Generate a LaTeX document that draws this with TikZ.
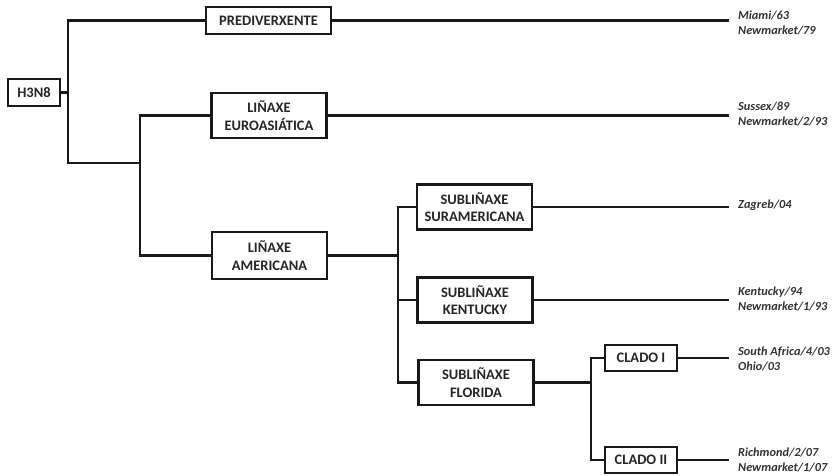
\documentclass[tikz,border=0pt]{standalone}
\usepackage{fontspec}
\setmainfont{Carlito}
\begin{document}
\begin{tikzpicture}[x=1pt,y=-1pt,
  box/.style={draw=black!90,line width=2.1pt,fill=white,align=center,inner sep=0pt,
    font=\fontsize{14.5}{17.5}\selectfont\bfseries\color{black!85}},
  bigbox/.style={box,minimum width=115pt,minimum height=45pt},
  smallbox/.style={box,minimum height=27pt},
  conn/.style={line width=2.1pt,black!90},
  lbl/.style={anchor=west,align=left,inner sep=0pt,
    font=\fontsize{12.3}{15.5}\selectfont\bfseries\itshape\color{black!80}}]
\useasboundingbox (0,0) rectangle (832,475);
% nodes
\node[smallbox,minimum width=52pt] (h3) at (34,92.5) {H3N8};
\node[smallbox,minimum width=125pt] (pre) at (268.5,20.5) {PREDIVERXENTE};
\node[bigbox] (eur) at (269,115.5) {LIÑAXE\\EUROASIÁTICA};
\node[bigbox,minimum height=47pt] (ame) at (269.5,255.5) {LIÑAXE\\AMERICANA};
\node[bigbox] (sur) at (474.5,207) {SUBLIÑAXE\\SURAMERICANA};
\node[bigbox] (ken) at (475,300) {SUBLIÑAXE\\KENTUCKY};
\node[bigbox] (flo) at (476,382.5) {SUBLIÑAXE\\FLORIDA};
\node[smallbox,minimum width=72pt,minimum height=26pt] (c1) at (641,358) {CLADO I};
\node[smallbox,minimum width=72pt,minimum height=26pt] (c2) at (641,460) {CLADO II};
% junction coordinates
\coordinate (b1) at (68,163);
\coordinate (b2) at (140,163);
\coordinate (j3) at (398,255.5);
\coordinate (j4) at (591,382.5);
\coordinate (e) at (729,0);
% connectors
\draw[conn] (pre.west) -| (b1) |- (b2);
\draw[conn] (h3.east) -- (h3.east -| b1);
\draw[conn] (eur.west) -| (b2) |- (ame.west);
\draw[conn] (ame.east) -- (j3);
\draw[conn] (sur.west) -| (j3) |- (flo.west);
\draw[conn] (ken.west) -- (ken.west -| j3);
\draw[conn] (flo.east) -- (j4);
\draw[conn] (c1.west) -| (j4) |- (c2.west);
\draw[conn] (pre.east) -- (pre.east -| e);
\draw[conn] (eur.east) -- (eur.east -| e);
\draw[conn] (sur.east) -- (sur.east -| e);
\draw[conn] (ken.east) -- (ken.east -| e);
\draw[conn] (c1.east) -- (c1.east -| e);
\draw[conn] (c2.east) -- (c2.east -| e);
% labels
\node[lbl] (l1) at (738,23) {Miami/63\\Newmarket/79};
\node[lbl] (l2) at (738,114) {Sussex/89\\Newmarket/2/93};
\node[lbl] (l3) at (738,205) {Zagreb/04};
\node[lbl] (l4) at (738,299) {Kentucky/94\\Newmarket/1/93};
\node[lbl] (l5) at (738,359) {South Africa/4/03\\Ohio/03};
\node[lbl] (l6) at (738,460) {Richmond/2/07\\Newmarket/1/07};
\end{tikzpicture}
\end{document}
